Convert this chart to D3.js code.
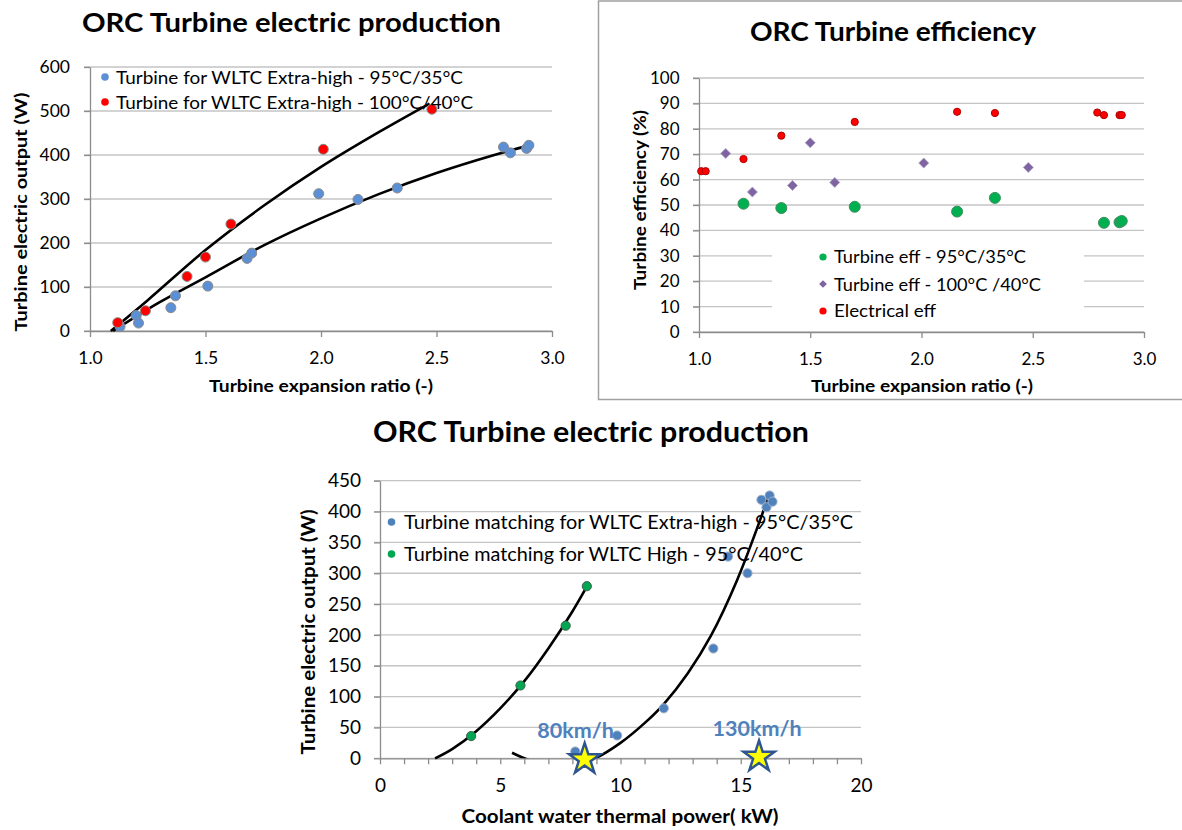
<!DOCTYPE html>
<html>
<head>
<meta charset="utf-8">
<script src="https://cdn.jsdelivr.net/npm/d3@7"></script>
<style>
body { margin: 0; background: #fff; }
</style>
</head>
<body>
<script>
// ---- data ----
// top left: electric output vs expansion ratio
let tlBlue = [[1.13,10],[1.20,35],[1.21,18],[1.35,53],[1.37,80],[1.51,102],[1.68,165],[1.70,177],
              [1.99,312],[2.16,299],[2.33,325],[2.79,418],[2.82,405],[2.89,415],[2.90,422]];
let tlRed = [[1.12,19],[1.24,46],[1.42,124],[1.50,168],[1.61,243],[2.01,413],[2.48,504]];
let tlBlueTrend = [[1.10,0],[1.3,65],[1.5,122],[1.75,194],[2.0,256],[2.25,311],[2.5,359],[2.75,400],[2.91,423]];
let tlRedTrend = [[1.09,0],[1.25,70],[1.5,184],[1.75,284],[2.0,373],[2.25,452],[2.47,517]];
let tlXTicks = [1.0,1.5,2.0,2.5,3.0];
let tlYTicks = [0,100,200,300,400,500,600];
let tlLegend = ['Turbine for WLTC Extra-high - 95°C/35°C', 'Turbine for WLTC Extra-high - 100°C/40°C'];

// top right: efficiency vs expansion ratio
let trGreen = [[1.20,50.5],[1.37,48.8],[1.70,49.3],[2.16,47.4],[2.33,52.8],[2.82,43.0],[2.89,43.2],[2.90,43.7]];
let trPurple = [[1.12,70.3],[1.24,55.1],[1.42,57.7],[1.50,74.5],[1.61,58.9],[2.01,66.5],[2.48,64.8]];
let trRed = [[1.01,63.3],[1.03,63.3],[1.20,68.1],[1.37,77.3],[1.70,82.7],[2.16,86.7],[2.33,86.2],
             [2.79,86.4],[2.82,85.4],[2.89,85.4],[2.90,85.4]];
let trXTicks = [1.0,1.5,2.0,2.5,3.0];
let trYTicks = [0,10,20,30,40,50,60,70,80,90,100];
let trLegend = ['Turbine eff - 95°C/35°C', 'Turbine eff - 100°C /40°C', 'Electrical eff'];

// bottom: electric output vs coolant thermal power
let btBlue = [[8.12,11],[9.86,37],[11.8,81],[13.86,178],[14.47,327],[15.28,300],[15.86,419],[16.07,407],[16.2,426],[16.32,416]];
let btGreen = [[3.79,36],[5.84,118],[7.72,215],[8.60,279]];
let btGreenTrend = [[2.29,0],[3,15],[4,44],[5,81],[6,125],[7,178],[8,238],[8.61,279]];
let btBlueTrend = [[5.49,9],[6.0,0],[6.7,-9],[7.45,-12.5],[8.2,-9.5],[8.95,0],[10,25],[11,57],[11.8,88],
                   [12.8,138],[13.75,198],[14.86,290],[16.18,427]];
let btStars = [[8.51,0],[15.76,4]];
let btStarLabels = ['80km/h', '130km/h'];
let btXTicks = d3.range(0, 21);
let btXLabels = [0,5,10,15,20];
let btYTicks = [0,50,100,150,200,250,300,350,400,450];
let btLegend = ['Turbine matching for WLTC Extra-high - 95°C/35°C', 'Turbine matching for WLTC High - 95°C/40°C'];

// ---- styles ----
const FONT = 'Lato, "Open Sans", sans-serif';
const GRID = '#c4c4c4';
const AXIS = '#8c8c8c';

let svg = d3.select('body').append('svg')
    .attr('width', 1182)
    .attr('height', 830);

function AddText(sel, txt, x, y, fs, opt = {}) {
    let t = sel.append('text')
        .attr('x', x)
        .attr('y', y)
        .attr('font-family', FONT)
        .attr('font-size', fs)
        .attr('font-weight', opt.bold ? 'bold' : 'normal')
        .attr('fill', opt.fill || '#000')
        .attr('text-anchor', opt.anchor || 'start')
        .text(txt);
    if (opt.len) t.attr('textLength', opt.len).attr('lengthAdjust', 'spacingAndGlyphs');
    if (opt.rotate) t.attr('transform', `rotate(-90,${x},${y})`);
    return t;
}

function DrawFrame(x, y, o) {
    let g = svg.append('g');
    g.append('g').selectAll('line').data(o.yTicks).join('line')
        .attr('x1', x.range()[0] - 6).attr('x2', x.range()[1])
        .attr('y1', d => y(d)).attr('y2', d => y(d))
        .attr('stroke', GRID).attr('stroke-width', 1.3);
    let ya = g.append('g').attr('transform', `translate(${x.range()[0]},0)`)
        .call(d3.axisLeft(y).tickValues(o.yTicks).tickSize(6).tickSizeOuter(0).tickPadding(o.yPad));
    let xa = g.append('g').attr('transform', `translate(0,${y.range()[0]})`)
        .call(d3.axisBottom(x).tickValues(o.xTicks).tickSize(6).tickSizeOuter(0).tickPadding(o.xPad)
            .tickFormat(o.xFmt));
    [ya, xa].forEach(a => {
        a.select('.domain').attr('stroke', AXIS).attr('stroke-width', 1.3);
        a.selectAll('.tick line').attr('stroke', AXIS).attr('stroke-width', 1.3);
        a.selectAll('.tick text').attr('font-family', FONT).attr('font-size', o.fs).attr('fill', '#000');
    });
    return g;
}

function AddDots(x, y, data, r, fill, stroke) {
    svg.append('g').selectAll('circle').data(data).join('circle')
        .attr('cx', d => x(d[0])).attr('cy', d => y(d[1])).attr('r', r)
        .attr('fill', fill).attr('stroke', stroke).attr('stroke-width', 1);
}

function AddTrend(x, y, data, clip) {
    let line = d3.line().x(d => x(d[0])).y(d => y(d[1])).curve(d3.curveCatmullRom);
    let p = svg.append('path').datum(data)
        .attr('d', line).attr('fill', 'none')
        .attr('stroke', '#000').attr('stroke-width', 2.6);
    if (clip) p.attr('clip-path', clip);
}

// ================= top left =================
let tlX = d3.scaleLinear().domain([1, 3]).range([90, 552]);
let tlY = d3.scaleLinear().domain([0, 600]).range([331, 67]);
DrawFrame(tlX, tlY, {xTicks: tlXTicks, yTicks: tlYTicks, xFmt: d3.format('.1f'), fs: 17.5, xPad: 14.5, yPad: 14});
AddTrend(tlX, tlY, tlBlueTrend);
AddTrend(tlX, tlY, tlRedTrend);
AddDots(tlX, tlY, tlBlue, 5, '#5b8fd6', '#8a8a8a');
AddDots(tlX, tlY, tlRed, 5, '#ff0000', '#8a8a8a');
[['#5b8fd6', 77], ['#ff0000', 102]].forEach((m, i) => {
    svg.append('circle').attr('cx', 105).attr('cy', m[1]).attr('r', 3.8).attr('fill', m[0]);
    AddText(svg, tlLegend[i], 116, m[1] + 6.5, 17.5, {len: i ? 357 : 347});
});
AddText(svg, 'ORC Turbine electric production', 82, 32, 27, {bold: true, len: 419});
AddText(svg, 'Turbine expansion ratio (-)', 321, 392, 17.5, {bold: true, anchor: 'middle', len: 224});
AddText(svg, 'Turbine electric output (W)', 27, 212, 17.5, {bold: true, anchor: 'middle', len: 239, rotate: true});

// ================= top right =================
svg.append('rect').attr('x', 598.5).attr('y', 1).attr('width', 620).attr('height', 398.5)
    .attr('fill', 'none').attr('stroke', '#a0a0a0').attr('stroke-width', 1.5);
let trX = d3.scaleLinear().domain([1, 3]).range([699, 1144]);
let trY = d3.scaleLinear().domain([0, 100]).range([332, 78]);
DrawFrame(trX, trY, {xTicks: trXTicks, yTicks: trYTicks, xFmt: d3.format('.1f'), fs: 17, xPad: 15, yPad: 13.5});
svg.append('rect').attr('x', 772).attr('y', 240).attr('width', 312).attr('height', 85).attr('fill', '#fff');
AddDots(trX, trY, trRed, 3.6, '#ff0000', '#b00000');
// diamonds: squares turned 45 degrees
svg.append('g').selectAll('path').data(trPurple).join('path')
    .attr('d', d3.symbol(d3.symbolSquare, 50))
    .attr('transform', d => `translate(${trX(d[0])},${trY(d[1])}) rotate(45)`)
    .attr('fill', '#8064a2').attr('stroke', '#a9a0c0').attr('stroke-width', 0.8);
AddDots(trX, trY, trGreen, 5.5, '#00b050', '#3f8f5f');
svg.append('circle').attr('cx', 823).attr('cy', 257).attr('r', 3.6).attr('fill', '#00b050');
svg.append('path').attr('d', d3.symbol(d3.symbolSquare, 30)).attr('transform', 'translate(823,284) rotate(45)').attr('fill', '#8064a2');
svg.append('circle').attr('cx', 823).attr('cy', 311).attr('r', 3.6).attr('fill', '#ff0000');
AddText(svg, trLegend[0], 834, 263, 17, {len: 192});
AddText(svg, trLegend[1], 834, 290.5, 17, {len: 207});
AddText(svg, trLegend[2], 834, 317, 17, {len: 102});
AddText(svg, 'ORC Turbine efficiency', 750, 41, 27, {bold: true, len: 286});
AddText(svg, 'Turbine expansion ratio (-)', 922, 392, 17.5, {bold: true, anchor: 'middle', len: 222});
AddText(svg, 'Turbine efficiency (%)', 646, 200, 17.5, {bold: true, anchor: 'middle', len: 180, rotate: true});

// ================= bottom =================
let btX = d3.scaleLinear().domain([0, 20]).range([380, 861]);
let btY = d3.scaleLinear().domain([0, 450]).range([758.3, 480.7]);
DrawFrame(btX, btY, {xTicks: btXTicks, yTicks: btYTicks, xFmt: d => btXLabels.includes(d) ? d : '', fs: 19, xPad: 14, yPad: 13});
svg.append('clipPath').attr('id', 'btclip').append('rect')
    .attr('x', btX(0)).attr('y', btY(450) - 10).attr('width', btX(20) - btX(0)).attr('height', btY(0) - btY(450) + 10);
AddTrend(btX, btY, btGreenTrend);
AddTrend(btX, btY, btBlueTrend, 'url(#btclip)');
AddDots(btX, btY, btBlue, 4.6, '#4f81bd', '#9fb0c8');
AddDots(btX, btY, btGreen, 4.6, '#00a651', '#40604a');
svg.append('g').selectAll('path').data(btStars).join('path')
    .attr('d', d3.symbol(d3.symbolStar, 300))
    .attr('transform', d => `translate(${btX(d[0])},${btY(d[1]) + 1})`)
    .attr('fill', '#ffff00').attr('stroke', '#2e5590').attr('stroke-width', 2.5);
svg.append('g').selectAll('text').data(btStars).join('text')
    .attr('x', (d, i) => btX(d[0]) + (i ? -2 : -9))
    .attr('y', d => btY(d[1]) - 20)
    .attr('text-anchor', 'middle')
    .attr('font-family', FONT).attr('font-size', 21.5).attr('font-weight', 'bold')
    .attr('fill', '#4f81bd')
    .text((d, i) => btStarLabels[i]);
[['#4f81bd', 522], ['#00a651', 554]].forEach((m, i) => {
    svg.append('circle').attr('cx', 391.5).attr('cy', m[1]).attr('r', 3.8).attr('fill', m[0]);
    AddText(svg, btLegend[i], 404, m[1] + 6.5, 19.5, {len: i ? 399 : 449});
});
AddText(svg, 'ORC Turbine electric production', 373, 442, 28, {bold: true, len: 436});
AddText(svg, 'Coolant water thermal power( kW)', 620, 823, 18, {bold: true, anchor: 'middle', len: 317});
AddText(svg, 'Turbine electric output (W)', 315, 632, 18, {bold: true, anchor: 'middle', len: 245, rotate: true});
</script>
</body>
</html>
